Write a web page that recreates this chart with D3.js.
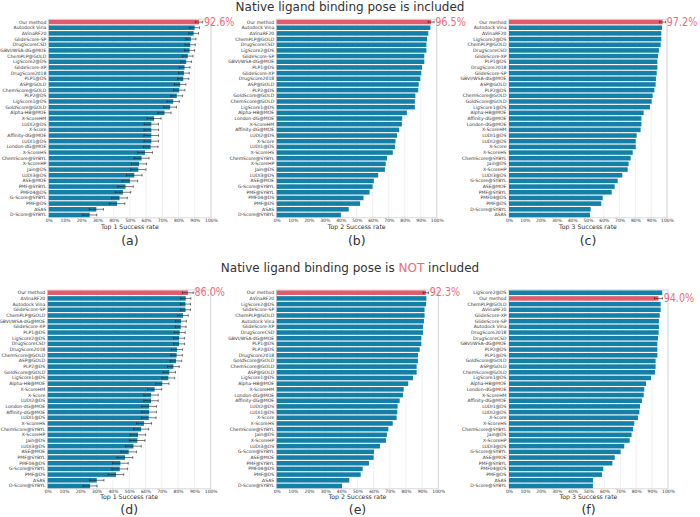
<!DOCTYPE html>
<html>
<head>
<meta charset="utf-8" />
<script src="https://d3js.org/d3.v7.min.js"></script>
<style>
  body { margin: 0; background: #fff; }
  svg text { font-family: 'DejaVu Sans', sans-serif; }
</style>
</head>
<body>
<div id="chart"></div>
<script>
// ---- data (success rates in %) ----
var labelsA = ['Our method','Autodock Vina','ΔVinaRF20','GlideScore-SP','DrugScoreCSD','GBVI/WSA-dG@MOE','ChemPLP@GOLD','LigScore2@DS','GlideScore-XP','DrugScore2018','PLP1@DS','ASP@GOLD','ChemScore@GOLD','PLP2@DS','LigScore1@DS','GoldScore@GOLD','Alpha-HB@MOE','X-ScoreHM','LUDI2@DS','X-Score','Affinity-dG@MOE','LUDI1@DS','London-dG@MOE','X-ScoreHS','ChemScore@SYBYL','X-ScoreHP','Jain@DS','LUDI3@DS','ASE@MOE','PMF@SYBYL','PMF04@DS','G-Score@SYBYL','PMF@DS','ΔSAS','D-Score@SYBYL'];
var valuesA = [92.6, 89.9, 89.3, 87.6, 87.2, 86.8, 85.7, 84.7, 83.7, 83.3, 82.9, 81.0, 80.4, 78.9, 76.7, 74.8, 71.3, 64.9, 63.2, 63.2, 63.2, 63.2, 62.8, 59.3, 57.2, 55.6, 55.2, 52.7, 50.0, 47.3, 45.7, 43.6, 42.1, 29.3, 25.2];
var errA = [2.3, 3.0, 3.0, 3.1, 3.1, 3.1, 3.2, 3.3, 3.3, 3.3, 3.4, 3.5, 3.5, 3.6, 3.8, 3.9, 4.1, 4.3, 4.4, 4.5, 4.5, 4.5, 4.5, 4.6, 4.6, 4.7, 4.7, 4.8, 4.8, 4.8, 4.8, 4.8, 4.8, 4.4, 4.3];

var labelsB = ['Our method','Autodock Vina','ΔVinaRF20','ChemPLP@GOLD','DrugScoreCSD','LigScore2@DS','GlideScore-SP','GBVI/WSA-dG@MOE','PLP1@DS','GlideScore-XP','DrugScore2018','ASP@GOLD','PLP2@DS','GoldScore@GOLD','ChemScore@GOLD','LigScore1@DS','Alpha-HB@MOE','London-dG@MOE','X-ScoreHM','Affinity-dG@MOE','LUDI2@DS','X-Score','LUDI1@DS','X-ScoreHS','ChemScore@SYBYL','X-ScoreHP','Jain@DS','LUDI3@DS','ASE@MOE','G-Score@SYBYL','PMF@SYBYL','PMF04@DS','PMF@DS','ΔSAS','D-Score@SYBYL'];
var valuesB = [96.5, 96.0, 94.7, 93.9, 93.5, 93.5, 92.2, 92.2, 90.8, 90.3, 89.7, 88.7, 88.4, 86.6, 86.3, 86.3, 81.3, 78.4, 78.2, 76.5, 75.2, 74.2, 73.9, 72.5, 68.9, 68.1, 67.6, 63.4, 60.7, 59.9, 58.0, 54.2, 52.1, 45.0, 40.1];

var labelsC = ['Our method','Autodock Vina','ΔVinaRF20','LigScore2@DS','ChemPLP@GOLD','DrugScoreCSD','GlideScore-XP','PLP1@DS','DrugScore2018','GlideScore-SP','GBVI/WSA-dG@MOE','ASP@GOLD','PLP2@DS','ChemScore@GOLD','GoldScore@GOLD','LigScore1@DS','Alpha-HB@MOE','Affinity-dG@MOE','London-dG@MOE','X-ScoreHM','LUDI1@DS','LUDI2@DS','X-Score','X-ScoreHS','ChemScore@SYBYL','Jain@DS','X-ScoreHP','LUDI3@DS','G-Score@SYBYL','ASE@MOE','PMF@SYBYL','PMF04@DS','PMF@DS','D-Score@SYBYL','ΔSAS'];
var valuesC = [97.2, 96.9, 96.4, 96.4, 96.0, 94.9, 94.3, 93.9, 93.9, 93.5, 93.0, 92.8, 92.0, 90.9, 90.3, 89.2, 85.2, 83.8, 83.8, 83.3, 80.8, 80.2, 80.2, 78.3, 77.0, 75.7, 75.1, 71.7, 68.8, 66.9, 65.0, 59.3, 58.4, 51.7, 51.3];

var labelsD = ['Our method','ΔVinaRF20','Autodock Vina','GlideScore-SP','ChemPLP@GOLD','GBVI/WSA-dG@MOE','GlideScore-XP','PLP1@DS','LigScore2@DS','DrugScoreCSD','DrugScore2018','ChemScore@GOLD','ASP@GOLD','PLP2@DS','GoldScore@GOLD','LigScore1@DS','Alpha-HB@MOE','X-ScoreHM','X-Score','LUDI2@DS','London-dG@MOE','Affinity-dG@MOE','LUDI1@DS','X-ScoreHS','ChemScore@SYBYL','X-ScoreHP','Jain@DS','LUDI3@DS','ASE@MOE','PMF@SYBYL','PMF04@DS','G-Score@SYBYL','PMF@DS','ΔSAS','D-Score@SYBYL'];
var valuesD = [86.0, 84.7, 84.5, 84.5, 83.0, 81.8, 81.6, 81.0, 80.6, 80.6, 79.3, 79.1, 78.7, 77.1, 74.6, 74.0, 70.3, 65.6, 63.4, 63.4, 62.2, 62.2, 62.0, 59.1, 57.3, 55.4, 55.0, 52.6, 49.7, 47.4, 44.6, 44.2, 41.9, 30.1, 26.0];
var errD = [3.3, 3.1, 3.1, 3.1, 3.2, 3.3, 3.3, 3.4, 3.4, 3.4, 3.5, 3.5, 3.5, 3.6, 3.8, 3.9, 4.1, 4.3, 4.4, 4.4, 4.5, 4.5, 4.5, 4.6, 4.6, 4.7, 4.7, 4.8, 4.8, 4.8, 4.8, 4.8, 4.8, 4.4, 4.3];

var labelsE = ['Our method','ΔVinaRF20','LigScore2@DS','GlideScore-SP','ChemPLP@GOLD','Autodock Vina','GlideScore-XP','DrugScoreCSD','GBVI/WSA-dG@MOE','PLP1@DS','PLP2@DS','DrugScore2018','GoldScore@GOLD','ChemScore@GOLD','ASP@GOLD','LigScore1@DS','Alpha-HB@MOE','X-ScoreHM','London-dG@MOE','Affinity-dG@MOE','LUDI2@DS','LUDI1@DS','X-Score','X-ScoreHS','ChemScore@SYBYL','Jain@DS','X-ScoreHP','LUDI3@DS','G-Score@SYBYL','ASE@MOE','PMF@SYBYL','PMF04@DS','PMF@DS','ΔSAS','D-Score@SYBYL'];
var valuesE = [92.3, 92.6, 92.4, 91.5, 91.5, 91.1, 90.5, 90.5, 89.5, 89.5, 88.5, 87.4, 87.4, 86.6, 86.6, 84.3, 81.4, 78.6, 78.1, 76.1, 74.8, 74.6, 74.2, 71.8, 69.1, 68.2, 67.6, 63.9, 60.2, 60.0, 57.1, 53.2, 52.0, 44.9, 40.4];

var labelsF = ['LigScore2@DS','Our method','ChemPLP@GOLD','ΔVinaRF20','GlideScore-XP','GlideScore-SP','Autodock Vina','DrugScore2018','DrugScoreCSD','GBVI/WSA-dG@MOE','PLP2@DS','PLP1@DS','GoldScore@GOLD','ASP@GOLD','ChemScore@GOLD','LigScore1@DS','Alpha-HB@MOE','London-dG@MOE','X-ScoreHM','Affinity-dG@MOE','LUDI1@DS','LUDI2@DS','X-Score','X-ScoreHS','ChemScore@SYBYL','Jain@DS','X-ScoreHP','LUDI3@DS','G-Score@SYBYL','ASE@MOE','PMF@SYBYL','PMF04@DS','PMF@DS','ΔSAS','D-Score@SYBYL'];
var valuesF = [96.4, 94.0, 95.4, 95.4, 94.8, 94.3, 94.3, 94.1, 93.7, 93.3, 93.3, 93.3, 92.2, 92.2, 91.8, 89.3, 86.2, 85.1, 84.7, 83.6, 82.4, 82.0, 81.1, 78.8, 78.0, 77.1, 75.9, 72.5, 70.2, 66.5, 65.0, 59.3, 58.5, 52.8, 52.8];

// error of "Our method" in panels without full error bars
var ourErrB = 1.8, ourErrC = 1.9, ourErrE = 1.6, ourErrF = 2.5;
var xTicks = [0, 10, 20, 30, 40, 50, 60, 70, 80, 90, 100];

var width = 700, height = 517;
var blue = '#147fa7', red = '#e05c6c', redText = '#ea6d79';

var svg = d3.select('#chart').append('svg')
  .attr('width', width).attr('height', height);

var rowTop = { y0: 19.2, y1: 217.8, xlOff: 10, tagOff: 24 };
var rowBot = { y0: 289.9, y1: 488.8, xlOff: 8.8, tagOff: 21.6 };

var panels = [
  { tag: '(a)', labels: labelsA, values: valuesA, err: errA, xl: 'Top 1 Success rate', x0: 48.8, x1: 211, row: rowTop },
  { tag: '(b)', labels: labelsB, values: valuesB, ourErr: ourErrB, xl: 'Top 2 Success rate', x0: 276.7, x1: 436.8, row: rowTop },
  { tag: '(c)', labels: labelsC, values: valuesC, ourErr: ourErrC, xl: 'Top 3 Success rate', x0: 509, x1: 667, row: rowTop },
  { tag: '(d)', labels: labelsD, values: valuesD, err: errD, xl: 'Top 1 Success rate', x0: 47.7, x1: 210.7, row: rowBot },
  { tag: '(e)', labels: labelsE, values: valuesE, ourErr: ourErrE, xl: 'Top 2 Success rate', x0: 276.7, x1: 438.3, row: rowBot },
  { tag: '(f)', labels: labelsF, values: valuesF, ourErr: ourErrF, xl: 'Top 3 Success rate', x0: 509, x1: 668, row: rowBot }
];

panels.forEach(drawPanel);

function drawPanel(p) {
  var g = svg.append('g');
  var y0 = p.row.y0, y1 = p.row.y1;
  var x = d3.scaleLinear().domain([0, 100]).range([p.x0, p.x1]);
  var y = d3.scaleBand().domain(p.labels).range([y0, y1]).paddingInner(0.2).paddingOuter(0.1);

  // grid
  g.selectAll('.grid').data(xTicks).join('line')
    .attr('x1', d => x(d)).attr('x2', d => x(d))
    .attr('y1', y0).attr('y2', y1)
    .attr('stroke', '#e6e6e6').attr('stroke-width', 0.6);

  // frame
  g.append('rect')
    .attr('x', p.x0).attr('y', y0)
    .attr('width', p.x1 - p.x0).attr('height', y1 - y0)
    .attr('fill', 'none').attr('stroke', '#cfcfcf').attr('stroke-width', 0.8);

  var rows = p.labels.map((l, i) => ({
    label: l, v: p.values[i],
    e: p.err ? p.err[i] : (l === 'Our method' ? p.ourErr : 0)
  }));

  // bars
  g.selectAll('.bar').data(rows).join('rect')
    .attr('x', x(0))
    .attr('y', d => y(d.label))
    .attr('width', d => x(d.v) - x(0))
    .attr('height', y.bandwidth())
    .attr('fill', d => d.label === 'Our method' ? red : blue);

  // error bars
  var eb = rows.filter(d => d.e > 0);
  var cy = d => y(d.label) + y.bandwidth() / 2;
  g.selectAll('.eb').data(eb).join('line')
    .attr('x1', d => x(d.v - d.e)).attr('x2', d => x(d.v + d.e))
    .attr('y1', cy).attr('y2', cy)
    .attr('stroke', '#222').attr('stroke-width', 0.6);
  [-1, 1].forEach(function (s) {
    g.selectAll('.cap' + s).data(eb).join('line')
      .attr('x1', d => x(d.v + s * d.e)).attr('x2', d => x(d.v + s * d.e))
      .attr('y1', d => cy(d) - 1.3).attr('y2', d => cy(d) + 1.3)
      .attr('stroke', '#222').attr('stroke-width', 0.6);
  });

  // y axis labels
  var yAxis = d3.axisLeft(y).tickSize(0).tickPadding(2.5);
  var ya = g.append('g').attr('transform', 'translate(' + p.x0 + ',0)').call(yAxis);
  ya.select('.domain').remove();
  ya.selectAll('text').style('font-size', '4.55px').attr('fill', '#333');

  // x axis labels
  var xAxis = d3.axisBottom(x).tickValues(xTicks).tickSize(0).tickPadding(1.2)
    .tickFormat(d => d + '%');
  var xa = g.append('g').attr('transform', 'translate(0,' + y1 + ')').call(xAxis);
  xa.select('.domain').remove();
  xa.selectAll('text').style('font-size', '4.5px').attr('fill', '#333');

  var mid = (p.x0 + p.x1) / 2;
  g.append('text').attr('x', mid).attr('y', y1 + p.row.xlOff)
    .attr('text-anchor', 'middle').attr('dominant-baseline', 'middle')
    .style('font-size', '6.2px').attr('fill', '#333').text(p.xl);
  g.append('text').attr('x', mid).attr('y', y1 + p.row.tagOff)
    .attr('text-anchor', 'middle').attr('dominant-baseline', 'middle')
    .style('font-size', '12.5px').attr('fill', '#333').text(p.tag);

  // "Our method" rate label
  var ours = rows.find(d => d.label === 'Our method');
  g.append('text')
    .attr('x', x(ours.v + ours.e) + 1.2)
    .attr('y', cy(ours))
    .attr('dominant-baseline', 'middle')
    .attr('textLength', 30.5).attr('lengthAdjust', 'spacingAndGlyphs')
    .style('font-size', '11.5px').attr('fill', redText)
    .text(ours.v.toFixed(1) + '%');
}

// row titles
svg.append('text').attr('x', 350).attr('y', 11)
  .attr('text-anchor', 'middle').style('font-size', '12px').attr('fill', '#333')
  .text('Native ligand binding pose is included');
var t2 = svg.append('text').attr('x', 350).attr('y', 272)
  .attr('text-anchor', 'middle').style('font-size', '12px').attr('fill', '#333');
t2.append('tspan').text('Native ligand binding pose is ');
t2.append('tspan').attr('fill', redText).text('NOT');
t2.append('tspan').text(' included');
</script>
</body>
</html>
